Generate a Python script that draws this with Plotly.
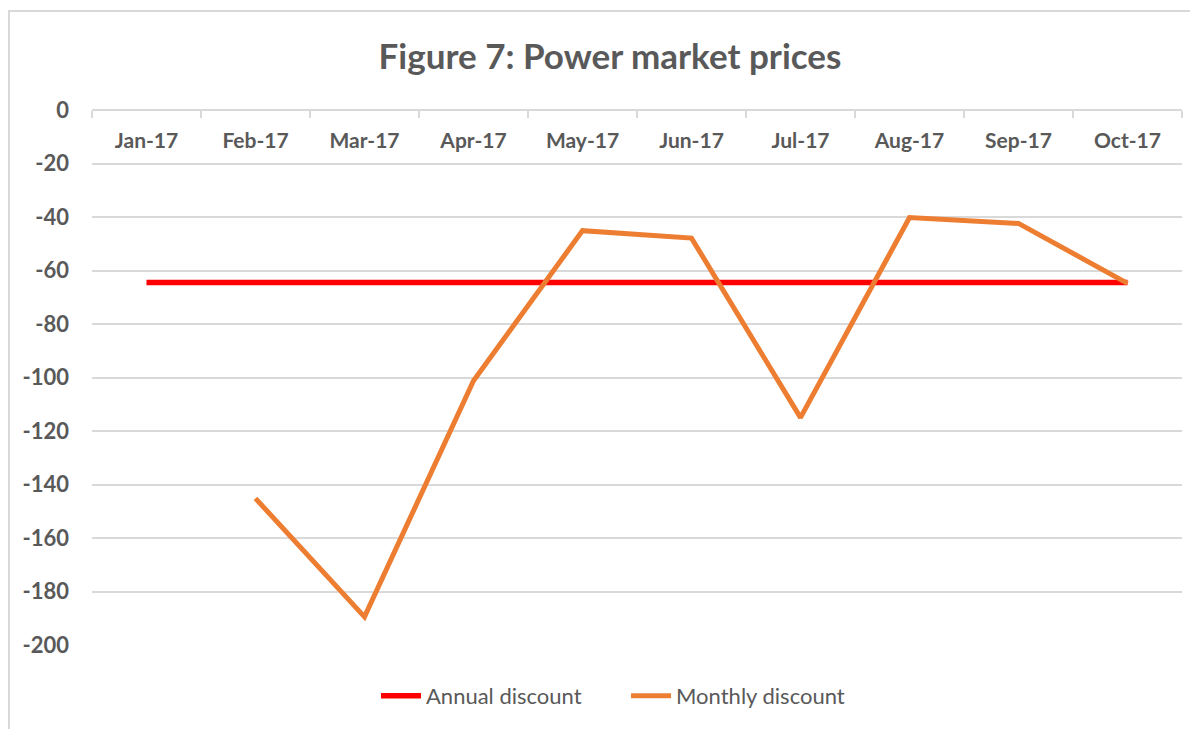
import plotly.graph_objects as go

months = ["Jan-17", "Feb-17", "Mar-17", "Apr-17", "May-17", "Jun-17",
          "Jul-17", "Aug-17", "Sep-17", "Oct-17"]
annual_discount = [-64.5] * 10
monthly_discount = [None, -145.2, -189.5, -101.2, -45.1, -47.9,
                    -115.0, -40.2, -42.4, -64.8]
y_ticks = [0, -20, -40, -60, -80, -100, -120, -140, -160, -180, -200]
y_tick_text = [str(v) for v in y_ticks]

FONT = "Lato"
GREY = "#595959"
PAD = "\u00a0" * 7

fig = go.Figure()
fig.add_trace(go.Scatter(x=months, y=annual_discount, name="Annual discount" + PAD,
                         mode="lines", line=dict(color="#FF0000", width=5.5)))
fig.add_trace(go.Scatter(x=months, y=monthly_discount, name="Monthly discount",
                         mode="lines", line=dict(color="#ED7D31", width=5)))

# page body has an 8px margin; figure occupies 8..1198 x 8..729
W, H = 1190, 721
L, R, T, B = 84, 16, 102, 84
pw, ph = W - L - R, H - T - B

fig.update_layout(
    width=W, height=H,
    margin=dict(l=L, r=R, t=T, b=B, autoexpand=False),
    paper_bgcolor="white", plot_bgcolor="white",
    font=dict(family=FONT, color=GREY),
    title=dict(text="<b>Figure 7: Power market prices</b>", x=602 / W, xanchor="center",
               y=1 - 49 / H, yanchor="middle", font=dict(size=35, color=GREY, family=FONT)),
    showlegend=True,
    legend=dict(orientation="h", x=(605 - L) / pw, xanchor="center",
                y=-(688 - (T + ph)) / ph, yanchor="middle",
                font=dict(size=22, color=GREY, family=FONT),
                itemwidth=40, traceorder="normal"),
    xaxis=dict(type="category", anchor="free", position=1, side="bottom",
               automargin=False,
               showline=True, linecolor="#d9d9d9", linewidth=2,
               ticks="outside", tickson="boundaries", ticklen=7, tickcolor="#d9d9d9",
               tickwidth=2, showgrid=False, ticklabelstandoff=12,
               tickfont=dict(size=21, color=GREY, family=FONT, weight="bold"),
               range=[-0.5, 9.5]),
    yaxis=dict(range=[-200, 0], tickvals=y_ticks, ticktext=y_tick_text,
               automargin=False, showgrid=True, gridcolor="#d9d9d9",
               gridwidth=1.5, zeroline=False, showline=False,
               tickfont=dict(size=22, color=GREY, family=FONT, weight="bold"),
               ticklabelstandoff=22),
    shapes=[dict(type="rect", xref="paper", yref="paper",
                 x0=(1 - L) / pw, x1=(W + 10 - L) / pw,
                 y0=-(H + 10 - T - ph) / ph, y1=(T + ph - 3) / ph,
                 line=dict(color="#d9d9d9", width=2), layer="below")],
)

fig.write_html("out.html")
